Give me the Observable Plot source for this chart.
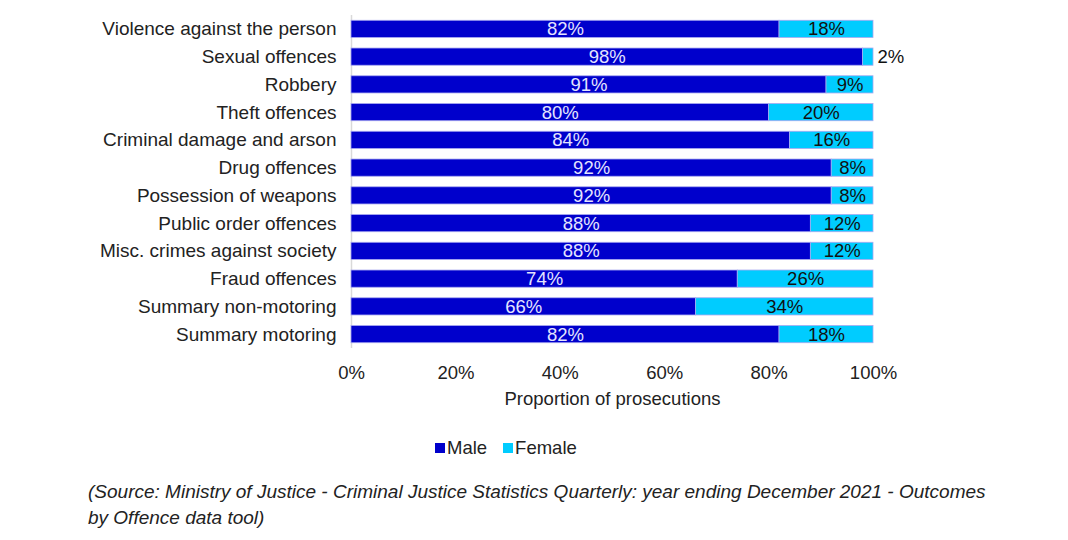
<!DOCTYPE html>
<html><head><meta charset="utf-8">
<script src="https://cdn.jsdelivr.net/npm/d3@7"></script>
<script src="https://cdn.jsdelivr.net/npm/@observablehq/plot@0.6"></script>
<style>
body{margin:0;background:#fff;font-family:"Liberation Sans",Arial,sans-serif;}
#legend{display:flex;justify-content:flex-start;margin-left:435px;gap:16px;font-size:18.5px;color:#222;height:24px;align-items:center;margin-top:24px}
#legend span.sw{display:inline-block;width:10px;height:10px;margin-right:2px;vertical-align:middle;position:relative;top:-1px}
#caption{margin:19px 0 0 88px;font-style:italic;font-size:19px;line-height:26px;color:#222;width:905px}
</style></head><body>
<div id="chart"></div>
<div id="legend"><div><span class="sw" style="background:#0000cc"></span>Male</div><div><span class="sw" style="background:#00ccff"></span>Female</div></div>
<div id="caption">(Source: Ministry of Justice - Criminal Justice Statistics Quarterly: year ending December 2021 - Outcomes by Offence data tool)</div>
<script>
const categories = ["Violence against the person","Sexual offences","Robbery","Theft offences","Criminal damage and arson","Drug offences","Possession of weapons","Public order offences","Misc. crimes against society","Fraud offences","Summary non-motoring","Summary motoring"];
const male = [82,98,91,80,84,92,92,88,88,74,66,82];
const female = [18,2,9,20,16,8,8,12,12,26,34,18];
const xTicks = [0,20,40,60,80,100];

const rows = [];
categories.forEach((c,i)=>{
  rows.push({cat:c, sex:"Male", x1:0, x2:male[i]/100, v:male[i]});
  rows.push({cat:c, sex:"Female", x1:male[i]/100, x2:(male[i]+female[i])/100, v:female[i]});
});
const maleRows = rows.filter(d=>d.sex==="Male");
const femIn = rows.filter(d=>d.sex==="Female" && d.v>=5);
const femOut = rows.filter(d=>d.sex==="Female" && d.v<5);

const chart = Plot.plot({
  width:1068, height:412,
  marginLeft:351, marginRight:195, marginTop:15, marginBottom:64,
  style:{fontFamily:"Liberation Sans, Arial, sans-serif", fontSize:"18.5px", color:"#222"},
  x:{domain:[0,1], ticks:xTicks.map(t=>t/100), tickFormat:d=>Math.round(d*100)+"%", tickSize:0, tickPadding:17, label:"Proportion of prosecutions", labelAnchor:"center", labelArrow:"none", labelOffset:56},
  y:{domain:categories, paddingInner:0.38, paddingOuter:0.19, align:0.5, round:false, tickSize:0, tickPadding:15, label:null},
  color:{domain:["Male","Female"], range:["#0000cc","#00ccff"]},
  marks:[
    Plot.ruleX([0],{stroke:"#d9d9d9", strokeWidth:1.5}),
    Plot.barX(rows,{y:"cat", x1:"x1", x2:"x2", fill:"sex", stroke:"#a8a8f0", strokeWidth:0.8}),
    Plot.text(maleRows,{y:"cat", x:d=>(d.x1+d.x2)/2, text:d=>d.v+"%", fill:"#e4e4ff", fontSize:18.5}),
    Plot.text(femIn,{y:"cat", x:d=>(d.x1+d.x2)/2, text:d=>d.v+"%", fill:"#111", fontSize:18.5}),
    Plot.text(femOut,{y:"cat", x:"x2", text:d=>d.v+"%", fill:"#111", fontSize:18.5, textAnchor:"start", dx:4}),
    Plot.axisY({tickSize:0, tickPadding:15, fontSize:19})
  ]
});
document.getElementById("chart").appendChild(chart);
</script>
</body></html>
